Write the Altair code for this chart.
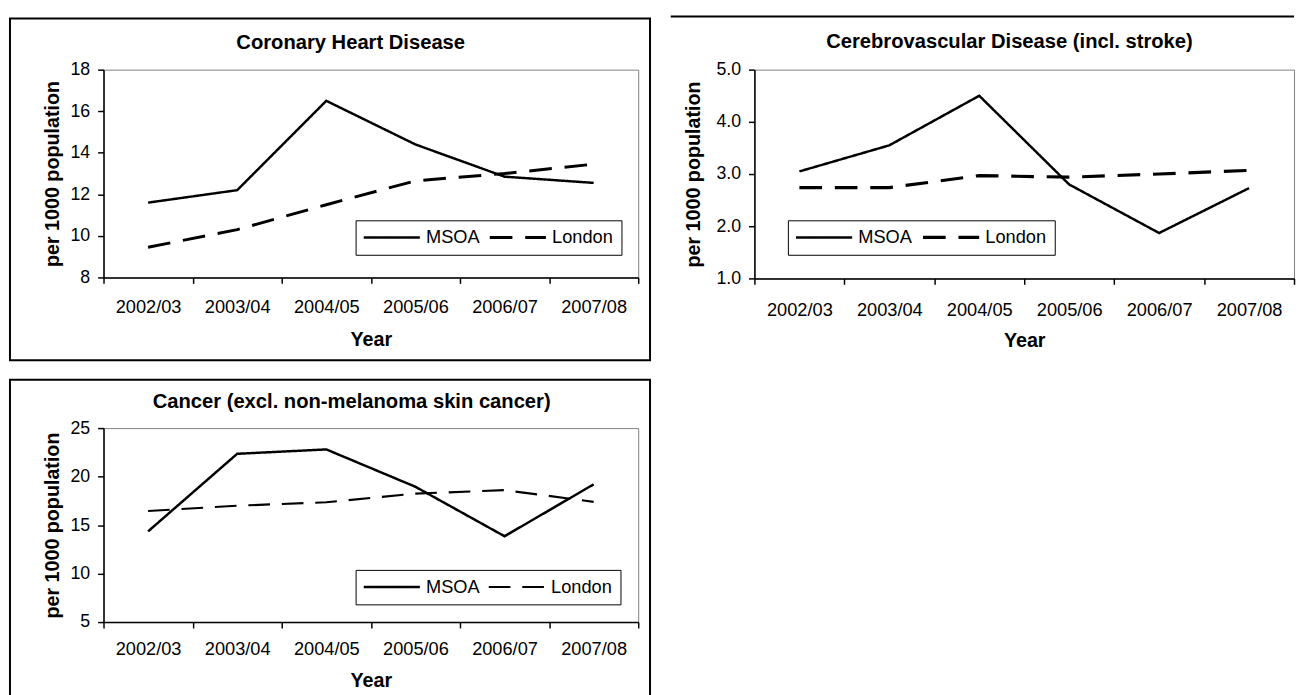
import altair as alt
import pandas as pd

years = ["2002/03", "2003/04", "2004/05", "2005/06", "2006/07", "2007/08"]
series_names = ["MSOA", "London"]

chd_title = "Coronary Heart Disease"
chd_msoa = [11.6, 12.2, 16.5, 14.4, 12.85, 12.55]
chd_london = [9.45, 10.3, 11.5, 12.65, 13.0, 13.45]
chd_ticks = [8, 10, 12, 14, 16, 18]

cvd_title = "Cerebrovascular Disease (incl. stroke)"
cvd_msoa = [3.05, 3.55, 4.5, 2.8, 1.87, 2.73]
cvd_london = [2.74, 2.74, 2.97, 2.94, 3.0, 3.07]
cvd_ticks = [1.0, 2.0, 3.0, 4.0, 5.0]

can_title = "Cancer (excl. non-melanoma skin cancer)"
can_msoa = [14.35, 22.35, 22.8, 18.95, 13.85, 19.2]
can_london = [16.45, 17.0, 17.35, 18.25, 18.6, 17.4]
can_ticks = [5, 10, 15, 20, 25]

y_title = "per 1000 population"
x_title = "Year"

FONT = "Liberation Sans, Arial, Helvetica, sans-serif"


def panel(title, msoa, london, ticks, fmt, W, H, o):
    df = pd.DataFrame({
        "year": years * 2,
        "series": ["MSOA"] * len(years) + ["London"] * len(years),
        "value": msoa + london,
    })
    x = alt.X(
        "year:N", sort=years, bandPosition=0.5,
        scale=alt.Scale(type="band", paddingInner=0, paddingOuter=0),
        axis=alt.Axis(title=x_title, tickBand="extent", labelAngle=0,
                      labelFontSize=18.5, labelPadding=o["lp"],
                      titleX=W / 2, titleY=o["xty"], titleAlign="center",
                      titleBaseline="alphabetic"),
    )
    y = alt.Y(
        "value:Q",
        scale=alt.Scale(domain=[ticks[0], ticks[-1]], nice=False, zero=False),
        axis=alt.Axis(title=y_title, values=ticks, format=fmt, labelPadding=8,
                      titleX=o["ytx"], titleY=H / 2, titleAngle=270,
                      titleAlign="center", titleBaseline="middle"),
    )
    lines = alt.Chart(df).mark_line(color="black").encode(
        x=x,
        y=y,
        strokeDash=alt.StrokeDash(
            "series:N",
            scale=alt.Scale(domain=series_names, range=[[1, 0], o["dash"]]),
            legend=alt.Legend(
                orient="none", legendX=o["lx"], legendY=o["ly"],
                direction="horizontal", title=None,
                symbolType="M0,0H10", symbolSize=130, symbolStrokeWidth=2.5,
                symbolStrokeColor="black", symbolOffset=-9, labelOffset=54,
                columnPadding=4, padding=8, labelFont=FONT, labelFontSize=18.5,
                labelColor="black", labelLimit=0, strokeColor="black",
                fillColor="white",
            ),
        ),
        strokeWidth=alt.StrokeWidth(
            "series:N",
            scale=alt.Scale(domain=series_names, range=[2.5, o["lw"]]),
            legend=None,
        ),
    )
    ttl = alt.Chart(pd.DataFrame({"t": [title]})).mark_text(
        font=FONT, fontSize=20.5, fontWeight="bold", align="center",
        baseline="alphabetic", color="black",
    ).encode(text="t:N", x=alt.value(o["tx"]), y=alt.value(o["ty"]))

    one = pd.DataFrame({"k": [0]})
    if o["frame"] == "box":
        frame = alt.Chart(one).mark_rect(
            fillOpacity=0, stroke="black", strokeWidth=2
        ).encode(x=alt.value(-95), x2=alt.value(W + 12),
                 y=alt.value(o["fy"]), y2=alt.value(o["fy2"]))
    else:
        frame = alt.Chart(one).mark_rule(stroke="black", strokeWidth=2).encode(
            x=alt.value(-85), x2=alt.value(W), y=alt.value(o["fy"]))
    return alt.layer(frame, lines, ttl).properties(width=W, height=H)


p1 = panel(chd_title, chd_msoa, chd_london, chd_ticks, "d", 543, 211, dict(
    lp=14.5, xty=69, ytx=-52, lx=256, ly=153, dash=[23, 13], lw=3,
    tx=251, ty=-21, frame="box", fy=-52, fy2=295))
p2 = panel(cvd_title, cvd_msoa, cvd_london, cvd_ticks, ".1f", 548, 212, dict(
    lp=16.5, xty=69, ytx=-62, lx=34, ly=153, dash=[23, 13], lw=3.2,
    tx=259, ty=-22, frame="rule", fy=-54))
p3 = panel(can_title, can_msoa, can_london, can_ticks, "d", 543, 197, dict(
    lp=11.5, xty=65, ytx=-52, lx=256, ly=144, dash=[22, 12], lw=2.2,
    tx=252, ty=-20, frame="box", fy=-49, fy2=300))

chart = alt.concat(
    p1, p2, p3, columns=2, spacing={"row": 152, "column": 118},
    bounds="flush", align="each",
).resolve_scale(
    x="independent", y="independent", strokeDash="independent",
    strokeWidth="independent",
).resolve_legend(
    strokeDash="independent", strokeWidth="independent",
).properties(
    padding={"left": 0, "top": 1, "right": 0, "bottom": 0},
).configure_view(
    stroke="#808080", strokeWidth=1,
).configure_axis(
    domainColor="black", domainWidth=1.5, tickColor="black", tickWidth=1.5,
    tickSize=6, grid=False, labelFont=FONT, labelFontSize=18,
    labelColor="black", titleFont=FONT, titleFontSize=20,
    titleFontWeight="bold", titleColor="black",
)

chart.save("out.html", embed_options={"renderer": "svg", "actions": False})
